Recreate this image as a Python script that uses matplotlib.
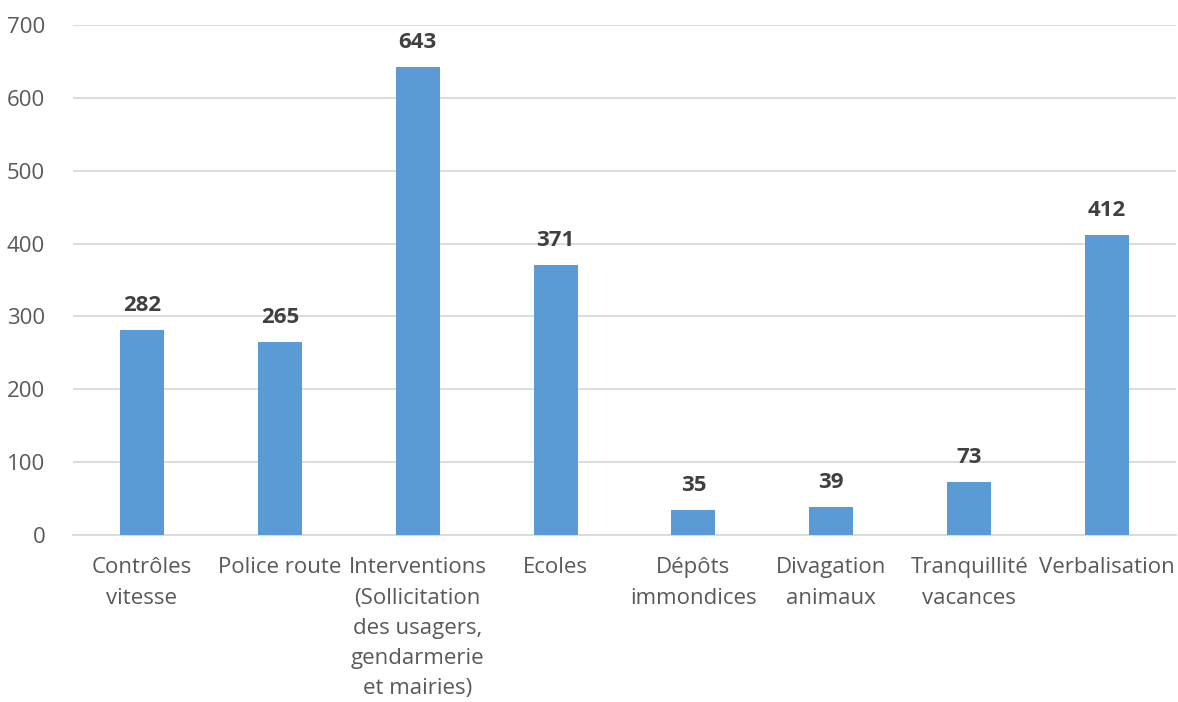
import matplotlib
matplotlib.use("Agg")
import matplotlib.pyplot as plt

categories = [
    "Contrôles\nvitesse",
    "Police route",
    "Interventions\n(Sollicitation\ndes usagers,\ngendarmerie\net mairies)",
    "Ecoles",
    "Dépôts\nimmondices",
    "Divagation\nanimaux",
    "Tranquillité\nvacances",
    "Verbalisation",
]
values = [282, 265, 643, 371, 35, 39, 73, 412]
yticks = [0, 100, 200, 300, 400, 500, 600, 700]

plt.rcParams["font.family"] = ["Open Sans", "DejaVu Sans"]
text_color = "#595959"

fig = plt.figure(figsize=(11.78, 7.02), dpi=100)
ax = fig.add_axes([73 / 1178, 1 - 535 / 702, 1103 / 1178, 510 / 702])

x = range(len(categories))
ax.bar(x, values, width=0.32, color="#5B9BD5", zorder=3)
for xi, v in zip(x, values):
    ax.text(xi, v + 19, str(v), ha="center", va="bottom", fontsize=16,
            fontweight="bold", color="#404040")

ax.set_xlim(-0.5, len(categories) - 0.5)
ax.set_ylim(0, 700)
ax.set_yticks(yticks)
ax.set_yticklabels([str(t) for t in yticks], fontsize=16, color=text_color)
ax.set_xticks(list(x))
ax.set_xticklabels(categories, fontsize=16, color=text_color, linespacing=1.58)
ax.tick_params(axis="both", length=0)
ax.tick_params(axis="y", pad=20)
ax.tick_params(axis="x", pad=16)
ax.grid(axis="y", color="#D9D9D9", linewidth=1.3, zorder=0)
for s in ["top", "right", "left"]:
    ax.spines[s].set_visible(False)
ax.spines["bottom"].set_color("#D9D9D9")
ax.spines["bottom"].set_linewidth(1.3)

fig.savefig("out.png", dpi=100)
